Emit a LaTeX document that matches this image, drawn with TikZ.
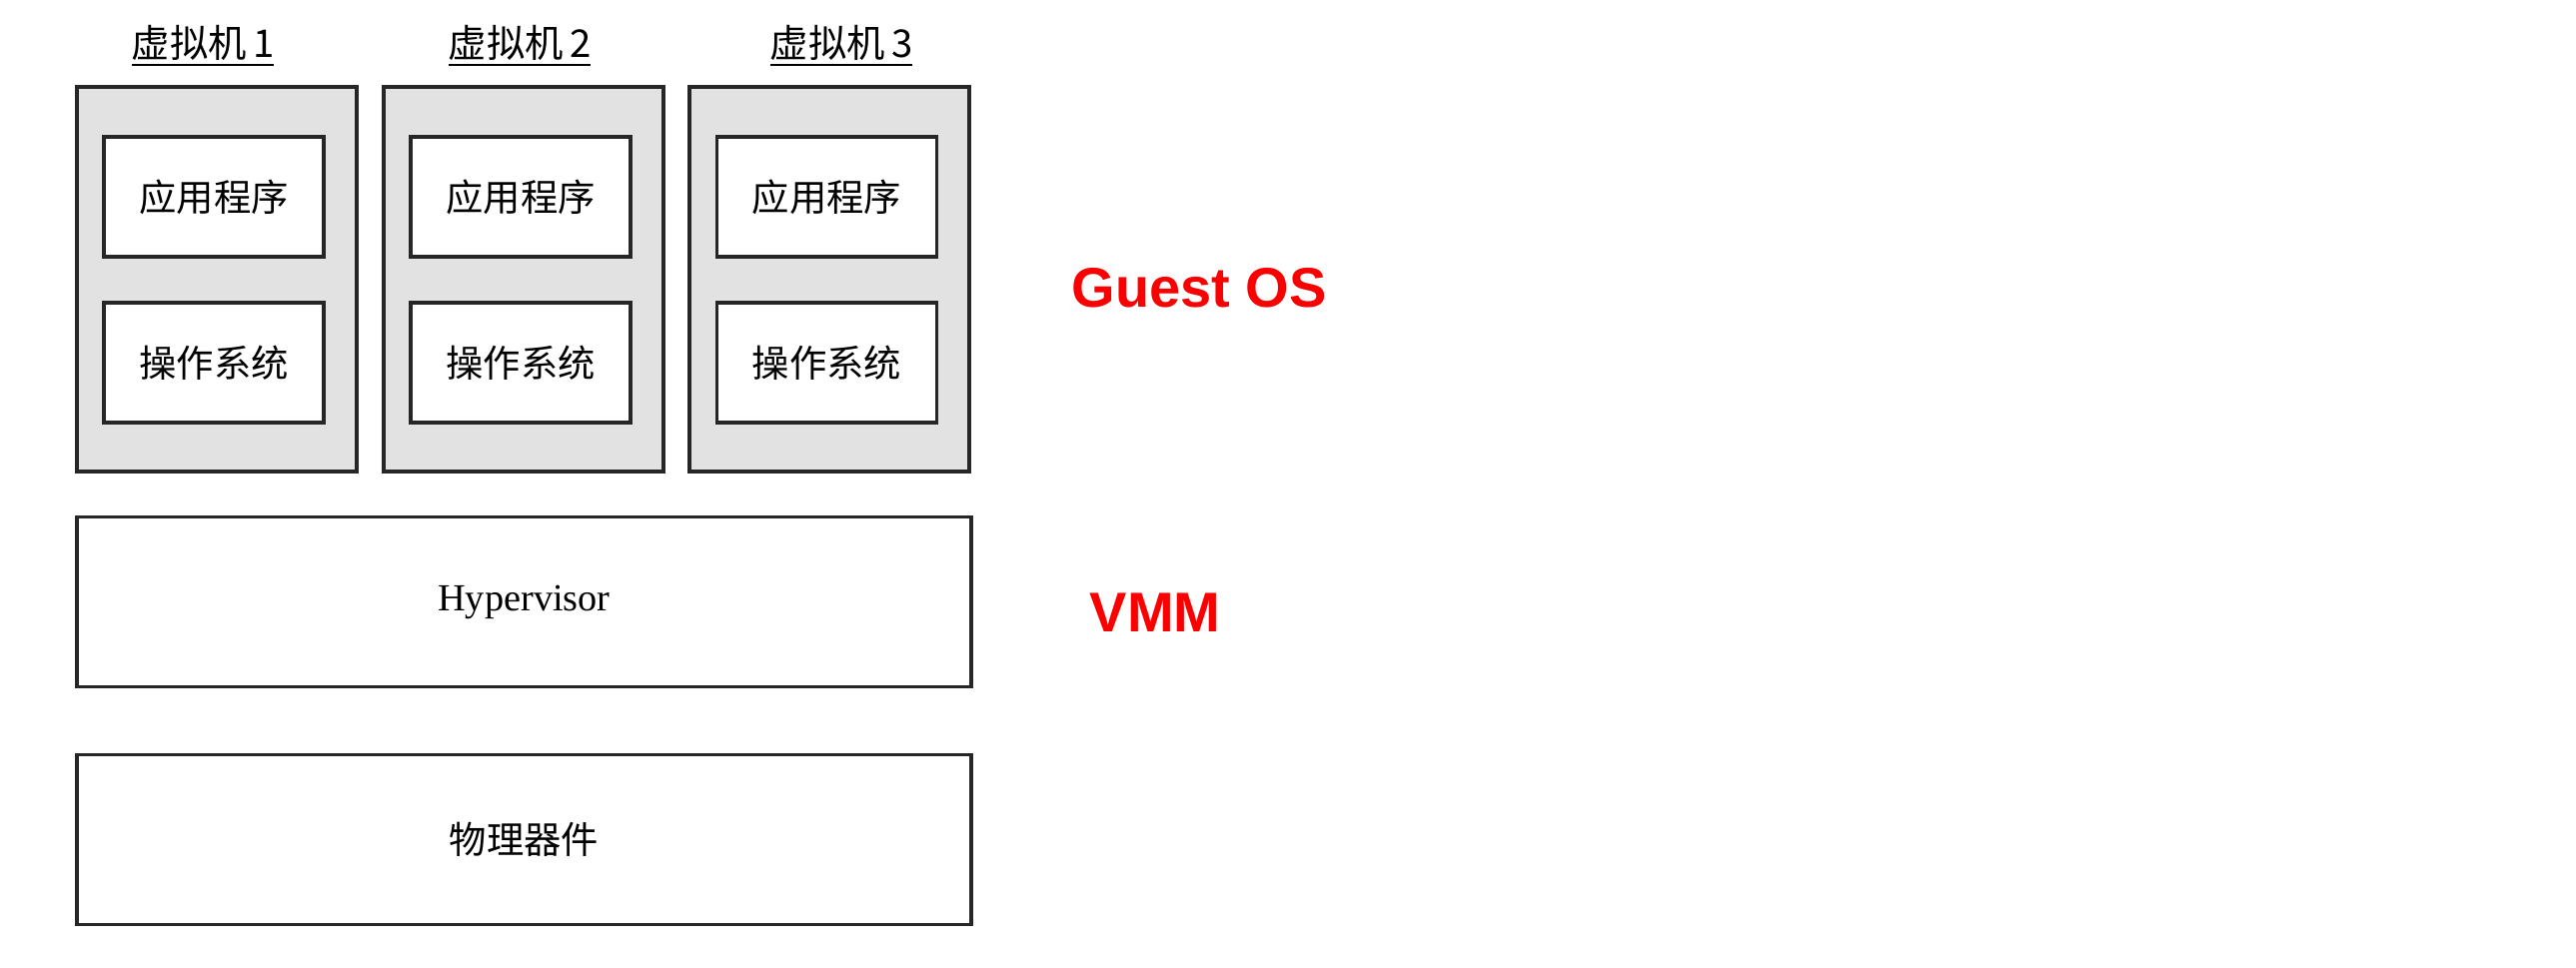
\documentclass[tikz,border=0pt]{standalone}
\usepackage{fontspec}
\setmainfont{Liberation Serif}
\newfontfamily\cjk{Noto Sans CJK SC}
\newfontfamily\labelfont{Liberation Sans}
\definecolor{vmgray}{RGB}{226,226,226}
\definecolor{redlab}{RGB}{250,0,0}
\tikzset{
  vmbox/.style={draw=black!85, line width=1pt, fill=vmgray, rectangle, inner sep=0pt,
    minimum width=84pt, minimum height=115.5pt},
  innerbox/.style={draw=black!85, line width=1pt, fill=white, rectangle, inner sep=0pt,
    minimum width=66pt, minimum height=36pt, font=\cjk\fontsize{11.2}{13}\selectfont},
  layerbox/.style={draw=black!85, line width=1pt, fill=white, rectangle, inner sep=0pt,
    minimum width=268.5pt, minimum height=51pt},
  vmlabel/.style={inner sep=0pt, font=\cjk\fontsize{11.5}{13}\selectfont},
  redlabel/.style={inner sep=0pt, text=redlab, font=\labelfont\bfseries\fontsize{16.8}{20}\selectfont}
}
\begin{document}
\begin{tikzpicture}[x=0.3pt,y=-0.3pt]
\useasboundingbox (0,0) rectangle (2578,968);
% virtual machine boxes
\node[vmbox] (vm1) at (217,279.5) {};
\node[vmbox] (vm2) at (524,279.5) {};
\node[vmbox] (vm3) at (830,279.5) {};
% labels
\node[vmlabel] (l1) at (203,46) {\underline{虚拟机\,1}};
\node[vmlabel] (l2) at (520,46) {\underline{虚拟机\,2}};
\node[vmlabel] (l3) at (842,46) {\underline{虚拟机\,3}};
% inner boxes
\node[innerbox] (app1) at (214,197) {应用程序};
\node[innerbox] (os1)  at (214,363) {操作系统};
\node[innerbox] (app2) at (521,197) {应用程序};
\node[innerbox] (os2)  at (521,363) {操作系统};
\node[innerbox] (app3) at (827.5,197) {应用程序};
\node[innerbox] (os3)  at (827.5,363) {操作系统};
% layers
\node[layerbox, font=\fontsize{11.5}{13}\selectfont] (hyp) at (524.5,602.5) {Hypervisor};
\node[layerbox, font=\cjk\fontsize{11.2}{13}\selectfont] (hw) at (524.5,840.5) {物理器件};
% red labels
\node[redlabel, anchor=west] (guest) at (1072,288) {Guest OS};
\node[redlabel, anchor=west] (vmm) at (1090,613) {VMM};
\end{tikzpicture}
\end{document}
